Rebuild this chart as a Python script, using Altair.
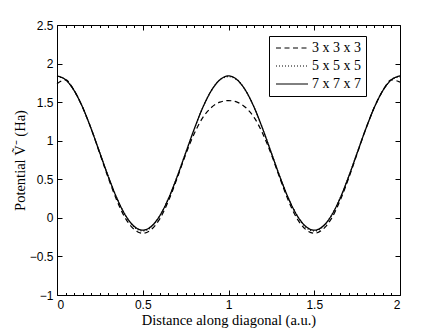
import altair as alt
import pandas as pd

x_vals = [0.0, 0.05, 0.1, 0.15, 0.2, 0.25, 0.3, 0.35, 0.4, 0.45, 0.5,
          0.55, 0.6, 0.65, 0.7, 0.75, 0.8, 0.85, 0.9, 0.95, 1.0,
          1.05, 1.1, 1.15, 1.2, 1.25, 1.3, 1.35, 1.4, 1.45, 1.5,
          1.55, 1.6, 1.65, 1.7, 1.75, 1.8, 1.85, 1.9, 1.95, 2.0]

v_3 = [1.74, 1.79, 1.65, 1.43, 1.15, 0.83, 0.51, 0.22, -0.01, -0.15, -0.20,
       -0.15, -0.01, 0.22, 0.51, 0.82, 1.09, 1.30, 1.43, 1.50, 1.52,
       1.50, 1.43, 1.30, 1.09, 0.82, 0.51, 0.22, -0.01, -0.15, -0.20,
       -0.15, -0.01, 0.22, 0.51, 0.83, 1.15, 1.43, 1.65, 1.79, 1.76]

v_5 = [1.83, 1.79, 1.65, 1.43, 1.15, 0.84, 0.53, 0.25, 0.03, -0.12, -0.17,
       -0.12, 0.03, 0.25, 0.53, 0.84, 1.15, 1.43, 1.65, 1.79, 1.83,
       1.79, 1.65, 1.43, 1.15, 0.84, 0.53, 0.25, 0.03, -0.12, -0.17,
       -0.12, 0.03, 0.25, 0.53, 0.84, 1.15, 1.43, 1.65, 1.79, 1.83]

v_7 = [1.84, 1.79, 1.65, 1.43, 1.15, 0.84, 0.53, 0.25, 0.03, -0.11, -0.16,
       -0.11, 0.03, 0.25, 0.53, 0.84, 1.15, 1.43, 1.65, 1.79, 1.84,
       1.79, 1.65, 1.43, 1.15, 0.84, 0.53, 0.25, 0.03, -0.11, -0.16,
       -0.11, 0.03, 0.25, 0.53, 0.84, 1.15, 1.43, 1.65, 1.79, 1.84]

series_names = ["3 x 3 x 3", "5 x 5 x 5", "7 x 7 x 7"]
dash_styles = [[5, 3.5], [1, 2], [1, 0]]

x_major = [0, 0.5, 1, 1.5, 2]
x_minor = [0.05, 0.1, 0.15, 0.2, 0.25, 0.3, 0.35, 0.4, 0.45,
           0.55, 0.6, 0.65, 0.7, 0.75, 0.8, 0.85, 0.9, 0.95,
           1.05, 1.1, 1.15, 1.2, 1.25, 1.3, 1.35, 1.4, 1.45,
           1.55, 1.6, 1.65, 1.7, 1.75, 1.8, 1.85, 1.9, 1.95]
y_major = [-1, -0.5, 0, 0.5, 1, 1.5, 2, 2.5]

W, H = 343, 270

rows = []
for name, vals in zip(series_names, [v_3, v_5, v_7]):
    for xv, yv in zip(x_vals, vals):
        rows.append({"x": xv, "v": yv, "series": name})
df = pd.DataFrame(rows)

xs = alt.Scale(domain=[0, 2], nice=False, zero=False)
ys = alt.Scale(domain=[-1, 2.5], nice=False, zero=False)

dash_scale = alt.Scale(domain=series_names, range=dash_styles)
legend = alt.Legend(
    orient="none", legendX=212, legendY=11, title=None,
    strokeColor="black", fillColor="white", padding=5,
    labelFont="Liberation Serif", labelFontSize=14, labelColor="black",
    symbolType="M-1,0L5.4,0", symbolSize=100, symbolStrokeWidth=1,
    symbolStrokeColor="black", labelOffset=24, rowPadding=4,
)

def line_layer(name, xaxis, yaxis, width=1.2):
    return alt.Chart(df).transform_filter(
        alt.datum.series == name
    ).mark_line(color="black", strokeWidth=width, interpolate="monotone").encode(
        x=alt.X("x:Q", scale=xs, axis=xaxis),
        y=alt.Y("v:Q", scale=ys, axis=yaxis),
        strokeDash=alt.StrokeDash("series:N", scale=dash_scale, legend=legend),
    )

tick_common = dict(grid=False, domain=False, labels=False, title=None,
                   tickColor="black", tickWidth=1)

ax_x_label = alt.Axis(orient="bottom", values=x_major, format="~g", ticks=False,
                      tickSize=0, domain=False, grid=False,
                      labelFont="Liberation Sans", labelFontSize=12, labelColor="black",
                      labelPadding=4,
                      title="Distance along diagonal (a.u.)",
                      titleFont="Liberation Serif", titleFontSize=14.5,
                      titleFontWeight="normal", titleColor="black",
                      titleY=29, titleBaseline="alphabetic")
ax_y_label = alt.Axis(orient="left", values=y_major, format="~g", ticks=False,
                      tickSize=0, domain=False, grid=False,
                      labelFont="Liberation Sans", labelFontSize=12, labelColor="black",
                      labelPadding=4,
                      title="Potential Ṽ⁻ (Ha)",
                      titleFont="Liberation Serif", titleFontSize=14.5,
                      titleFontWeight="normal", titleColor="black",
                      titleX=-37, titleY=H / 2, titleAngle=-90,
                      titleBaseline="middle", titleAlign="center")

ax_x_bot_in = alt.Axis(orient="top", offset=-H, values=x_major, tickSize=5, **tick_common)
ax_y_left_in = alt.Axis(orient="right", offset=-W, values=y_major, tickSize=5, **tick_common)
ax_x_top_in = alt.Axis(orient="bottom", offset=-H, values=x_major, tickSize=5, **tick_common)
ax_y_right_in = alt.Axis(orient="left", offset=-W, values=y_major, tickSize=5, **tick_common)
ax_x_bot_minor = alt.Axis(orient="top", offset=-H, values=x_minor, tickSize=2.5, **tick_common)
ax_x_top_minor = alt.Axis(orient="bottom", offset=-H, values=x_minor, tickSize=2.5, **tick_common)

l1 = line_layer("3 x 3 x 3", ax_x_label, ax_y_label)
l2 = line_layer("5 x 5 x 5", ax_x_bot_in, ax_y_left_in)
l3 = line_layer("7 x 7 x 7", ax_x_top_in, ax_y_right_in, width=1.3)

ghost = alt.Chart(df).transform_filter(alt.datum.series == "7 x 7 x 7")
l4 = ghost.mark_line(opacity=0).encode(
    x=alt.X("x:Q", scale=xs, axis=ax_x_bot_minor),
    y=alt.Y("v:Q", scale=ys, axis=None))
l5 = ghost.mark_line(opacity=0).encode(
    x=alt.X("x:Q", scale=xs, axis=ax_x_top_minor),
    y=alt.Y("v:Q", scale=ys, axis=None))

chart = alt.layer(l1, l2, l3, l4, l5).resolve_axis(
    x="independent", y="independent"
).properties(
    width=W, height=H,
    autosize=alt.AutoSizeParams(type="none"),
    padding={"left": 49, "top": 17, "right": 33, "bottom": 36},
    background="white",
).configure_view(stroke="black", strokeWidth=1)

chart.save("out.html", embed_options={"renderer": "svg", "actions": False})
